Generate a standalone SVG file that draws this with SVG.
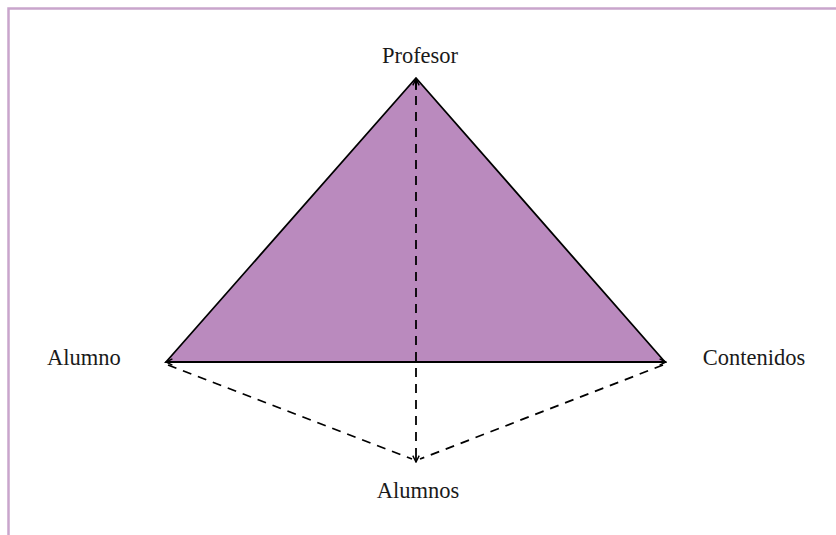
<svg xmlns="http://www.w3.org/2000/svg" width="836" height="535" viewBox="0 0 836 535">
<style>
.lbl{font-family:"Liberation Serif","Times New Roman",serif;font-size:22.5px;fill:#1a1a1a}
.dash{stroke:#000;stroke-width:1.8;stroke-dasharray:9 7;fill:none}
.frame{stroke:#C9A5CC;stroke-width:2.5;fill:none}
</style>
<defs>
<marker id="ah" viewBox="0 0 10 10" refX="9" refY="5" markerWidth="8" markerHeight="8" orient="auto" markerUnits="userSpaceOnUse">
<path d="M1,1 L9,5 L1,9" fill="none" stroke="#000" stroke-width="1.8" stroke-dasharray="none"/>
</marker>
</defs>
<g id="frame">
<path class="frame" d="M836,8.5 H8.5 V535"/>
</g>
<g id="triangle">
<polygon points="416,78 166,362 665,362" fill="#BA8ABE" stroke="#000" stroke-width="1.8" stroke-linejoin="miter"/>
</g>
<g id="connectors">
<line x1="416" y1="90" x2="416" y2="79" stroke="#000" stroke-width="1.8" marker-end="url(#ah)"/>
<line x1="180" y1="362" x2="166" y2="362" stroke="#000" stroke-width="1.8" marker-end="url(#ah)"/>
<line x1="652" y1="362" x2="666" y2="362" stroke="#000" stroke-width="1.8" marker-end="url(#ah)"/>
<line class="dash" x1="416" y1="80" x2="416" y2="452"/>
<line x1="416" y1="452" x2="416" y2="462" stroke="#000" stroke-width="1.8" marker-end="url(#ah)"/>
<line class="dash" x1="168" y1="365" x2="412" y2="459"/>
<line class="dash" x1="663" y1="365" x2="420" y2="459"/>
</g>
<g id="node-profesor"><text class="lbl" x="420" y="63" text-anchor="middle">Profesor</text></g>
<g id="node-alumno"><text class="lbl" x="84" y="365" text-anchor="middle">Alumno</text></g>
<g id="node-contenidos"><text class="lbl" x="754" y="365" text-anchor="middle">Contenidos</text></g>
<g id="node-alumnos"><text class="lbl" x="418" y="498" text-anchor="middle">Alumnos</text></g>
</svg>
